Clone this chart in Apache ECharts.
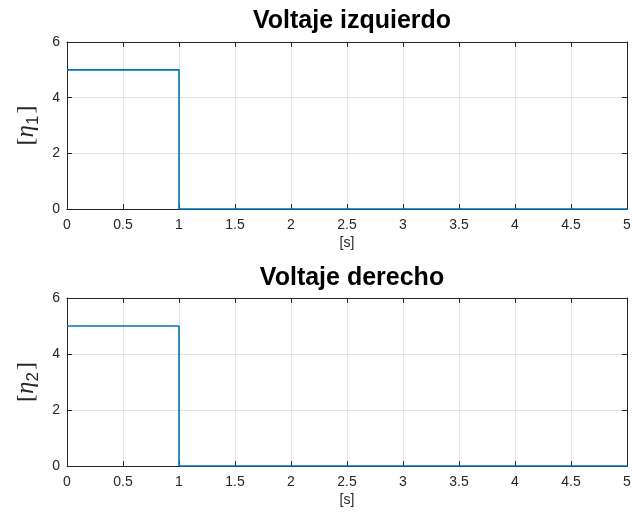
<!DOCTYPE html>
<html>
<head>
<meta charset="utf-8">
<script src="https://cdn.jsdelivr.net/npm/echarts@6/dist/echarts.min.js"></script>
<style>html,body{margin:0;padding:0;background:#fff}#c{width:634px;height:520px}</style>
</head>
<body>
<div id="c"></div>
<script>
const time = [0, 1, 1, 5];
const eta1 = [5, 5, 0, 0];
const eta2 = [5, 5, 0, 0];
const titles = ['Voltaje izquierdo', 'Voltaje derecho'];
const ySubs = ['1', '2'];
const xName = '[s]';

const chart = echarts.init(document.getElementById('c'), null, {renderer: 'canvas'});
const axisCol = '#262626';
const gridCol = '#e3e3e3';
const font = 'Liberation Sans, Arial, Helvetica, sans-serif';

const grids = [
  {left: 67, right: 7, top: 42, height: 167},
  {left: 67, right: 7, top: 298, height: 168}
];
const xAxes = [], yAxes = [];
grids.forEach((g, i) => {
  xAxes.push({
    type: 'value', gridIndex: i, min: 0, max: 5, interval: 0.5, position: 'bottom',
    name: xName, nameLocation: 'middle', nameGap: 27,
    nameTextStyle: {color: axisCol, fontSize: 14, fontFamily: font},
    axisLine: {onZero: false, lineStyle: {color: axisCol, width: 1}},
    axisTick: {inside: true, length: 5, lineStyle: {color: axisCol}},
    axisLabel: {color: axisCol, fontSize: 14, fontFamily: font, margin: 9},
    splitLine: {show: true, lineStyle: {color: gridCol, width: 1}}
  });
  xAxes.push({
    type: 'value', gridIndex: i, min: 0, max: 5, interval: 0.5, position: 'top',
    axisLine: {onZero: false, lineStyle: {color: axisCol, width: 1}},
    axisTick: {inside: true, length: 5, lineStyle: {color: axisCol}},
    axisLabel: {show: false}, splitLine: {show: false}
  });
  yAxes.push({
    type: 'value', gridIndex: i, min: 0, max: 6, interval: 2, position: 'left',
    name: '{b|[}{e|η}{s|' + ySubs[i] + '}{b|]}', nameLocation: 'middle', nameRotate: 90, nameGap: 22,
    nameTextStyle: {
      color: axisCol,
      rich: {
        b: {fontSize: 24, fontFamily: 'Liberation Serif, Times New Roman, serif', color: axisCol, lineHeight: 30, verticalAlign: 'middle'},
        e: {fontSize: 25, fontFamily: 'Liberation Serif, Times New Roman, serif', fontStyle: 'italic', color: axisCol, lineHeight: 30, verticalAlign: 'middle'},
        s: {fontSize: 17, fontFamily: font, color: axisCol, lineHeight: 22, verticalAlign: 'bottom', padding: [0, 2, 0, 0]}
      }
    },
    axisLine: {onZero: false, lineStyle: {color: axisCol, width: 1}},
    axisTick: {inside: true, length: 5, lineStyle: {color: axisCol}},
    axisLabel: {color: axisCol, fontSize: 14, fontFamily: font, margin: 7},
    splitLine: {show: true, lineStyle: {color: gridCol, width: 1}}
  });
  yAxes.push({
    type: 'value', gridIndex: i, min: 0, max: 6, interval: 2, position: 'right',
    axisLine: {onZero: false, lineStyle: {color: axisCol, width: 1}},
    axisTick: {inside: true, length: 5, lineStyle: {color: axisCol}},
    axisLabel: {show: false}, splitLine: {show: false}
  });
});

const mk = (ys) => time.map((t, k) => [t, ys[k]]);

chart.setOption({
  animation: false,
  backgroundColor: '#fff',
  title: [
    {text: titles[0], left: 347, top: 4, textAlign: 'center',
     textStyle: {fontSize: 25, fontWeight: 'bold', color: '#000', fontFamily: font}},
    {text: titles[1], left: 347, top: 261, textAlign: 'center',
     textStyle: {fontSize: 25, fontWeight: 'bold', color: '#000', fontFamily: font}}
  ],
  grid: grids,
  xAxis: xAxes,
  yAxis: yAxes,
  series: [
    {type: 'line', xAxisIndex: 0, yAxisIndex: 0, data: mk(eta1), showSymbol: false,
     lineStyle: {color: '#0072BD', width: 1.6}, clip: false},
    {type: 'line', xAxisIndex: 2, yAxisIndex: 2, data: mk(eta2), showSymbol: false,
     lineStyle: {color: '#0072BD', width: 1.6}, clip: false}
  ]
});
</script>
</body>
</html>
